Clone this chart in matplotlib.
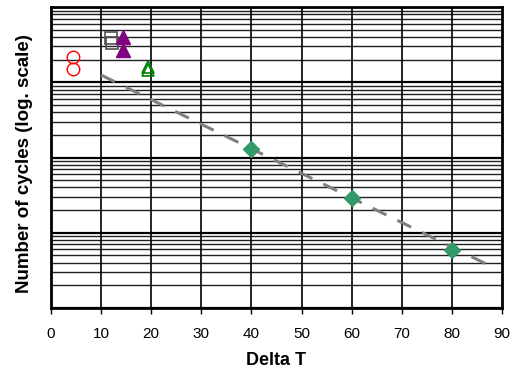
import numpy as np
import matplotlib
matplotlib.use("Agg")
import matplotlib.pyplot as plt

plt.rcParams['font.family'] = ['Liberation Sans', 'DejaVu Sans']

### Data (y in cycles on a log axis)
circles_x = [4.4, 4.4]
circles_y = [2.15e6, 1.5e6]

squares_x = [12.0, 12.2]
squares_y = [3.85e6, 3.35e6]

purple_x = [14.4, 14.4]
purple_y = [4.0e6, 2.7e6]

green_tri_x = [19.4, 19.4]
green_tri_y = [1.6e6, 1.45e6]

diamond_x = [40, 60, 80]
diamond_y = [1.3e5, 2.9e4, 5.9e3]

trend_x = [10, 87]
trend_y = [1.25e6, 3.8e3]

x_ticks = [0, 10, 20, 30, 40, 50, 60, 70, 80, 90]

### Plot
fig = plt.figure(figsize=(5.15, 3.76), dpi=100)
ax = fig.add_axes([0.099, 0.181, 0.876, 0.800])

ax.set_yscale('log')
ax.set_xlim(0, 90)
ax.set_ylim(1e3, 1e7)

# gridlines
for dec in [1e3, 1e4, 1e5, 1e6]:
    for k in range(2, 10):
        ax.axhline(dec * k, color='#202020', lw=1.0, zorder=1)
    ax.axhline(dec, color='black', lw=1.6, zorder=1)
for xv in x_ticks[1:-1]:
    ax.axvline(xv, color='black', lw=1.2, zorder=1)

ax.plot(trend_x, trend_y, color='#808080', lw=2.2, dashes=(5, 4), zorder=2)

ax.plot(circles_x, circles_y, 'o', ms=9, mfc='none', mec='#FF0000', mew=1.0, zorder=3)
ax.plot(squares_x, squares_y, 's', ms=8, mfc='none', mec='#505050', mew=1.2, zorder=3)
ax.plot(purple_x, purple_y, '^', ms=10.5, color='#800080', zorder=3)
ax.plot(green_tri_x, green_tri_y, '^', ms=8.5, mfc='none', mec='#008000', mew=1.2, zorder=3)
ax.plot(diamond_x, diamond_y, 'D', ms=8, color='#339966', mec='#339966', zorder=4)

for s in ax.spines.values():
    s.set_linewidth(2.0)
    s.set_color('black')

ax.set_xticks(x_ticks)
ax.tick_params(axis='x', direction='out', length=4, width=1, labelsize=11, pad=10)
ax.set_yticks([])
ax.yaxis.set_minor_locator(matplotlib.ticker.NullLocator())
ax.set_yticklabels([])

ax.set_xlabel('Delta T', fontsize=13, fontweight='bold', labelpad=8)
ax.set_ylabel('Number of cycles (log. scale)', fontsize=13.5, fontweight='bold')
ax.yaxis.set_label_coords(-0.04, 0.48)

fig.savefig('out.png', dpi=100)
